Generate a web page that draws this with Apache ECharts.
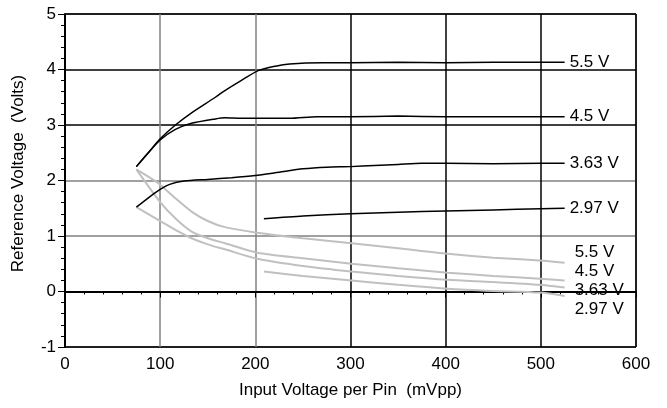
<!DOCTYPE html>
<html><head><meta charset="utf-8">
<script src="https://cdn.jsdelivr.net/npm/echarts@6/dist/echarts.min.js"></script>
<style>html,body{margin:0;padding:0;background:#fff}#c{width:667px;height:408px}</style>
</head><body><div id="c"></div>
<script>
const xTicks = [0, 100, 200, 300, 400, 500, 600];
const yTicks = [-1, 0, 1, 2, 3, 4, 5];
const labels = ['5.5 V', '4.5 V', '3.63 V', '2.97 V'];

const black55 = [[75,2.25],[88,2.51],[100,2.75],[116,3.0],[133,3.22],[158,3.5],[168,3.62],[185,3.8],[203,3.98],[221,4.06],[236,4.1],[271,4.12],[300,4.12],[350,4.13],[400,4.12],[450,4.13],[500,4.13],[525,4.13]];
const black45 = [[75,2.25],[88,2.51],[100,2.73],[116,2.92],[133,3.03],[158,3.11],[168,3.13],[185,3.12],[203,3.12],[236,3.12],[265,3.15],[300,3.15],[350,3.16],[400,3.15],[450,3.15],[500,3.15],[525,3.15]];
const black363 = [[75,1.52],[90,1.72],[100,1.84],[110,1.93],[125,1.99],[150,2.02],[175,2.05],[200,2.09],[225,2.15],[250,2.21],[275,2.24],[300,2.25],[325,2.27],[350,2.29],[375,2.31],[400,2.31],[450,2.3],[500,2.31],[525,2.31]];
const black297 = [[209,1.31],[250,1.36],[300,1.4],[350,1.43],[400,1.45],[450,1.47],[500,1.49],[525,1.5]];

const gray55 = [[75,2.2],[98,1.95],[116,1.68],[133,1.44],[150,1.27],[168,1.16],[202,1.06],[250,0.96],[301,0.87],[350,0.78],[402,0.68],[450,0.61],[499,0.56],[525,0.52]];
const gray45 = [[75,2.2],[100,1.61],[117,1.3],[133,1.08],[150,0.96],[168,0.87],[202,0.7],[250,0.6],[301,0.5],[350,0.42],[402,0.34],[450,0.28],[499,0.23],[525,0.2]];
const gray363 = [[75,1.52],[100,1.27],[117,1.1],[133,0.96],[150,0.85],[168,0.76],[202,0.59],[250,0.46],[301,0.36],[350,0.28],[402,0.21],[450,0.17],[499,0.12],[525,0.07]];
const gray297 = [[209,0.36],[250,0.28],[301,0.2],[350,0.12],[402,0.05],[450,0.01],[499,-0.02],[525,-0.08]];

const FONT = "'Liberation Sans', Arial, sans-serif";
const FS = 17;
const blackSets = [black55, black45, black363, black297];
const graySets = [gray55, gray45, gray363, gray297];
const grayOffsets = [[6,-10],[6,-9],[6,3],[6,13]];

const series = [];
graySets.forEach((d, i) => series.push({
  type: 'line', data: d, smooth: 0.25, symbol: 'none', z: 2,
  lineStyle: {color: '#c0c0c0', width: 2},
  endLabel: {show: true, formatter: labels[i], color: '#000', fontSize: FS, fontFamily: FONT, distance: 4, offset: grayOffsets[i]}
}));
blackSets.forEach((d, i) => series.push({
  type: 'line', data: d, smooth: 0.25, symbol: 'none', z: 3,
  lineStyle: {color: '#000', width: 1.5},
  endLabel: {show: true, formatter: labels[i], color: '#000', fontSize: FS, fontFamily: FONT, distance: 5}
}));

const chart = echarts.init(document.getElementById('c'), null, {renderer: 'canvas'});
chart.setOption({
  animation: false,
  grid: {left: 65, right: 31, top: 14, bottom: 61, show: true, borderColor: '#000', borderWidth: 1},
  xAxis: {
    type: 'value', min: xTicks[0], max: xTicks[xTicks.length - 1], interval: 100,
    name: 'Input Voltage per Pin  (mVpp)', nameLocation: 'middle', nameGap: 35,
    nameTextStyle: {color: '#000', fontSize: FS, fontFamily: FONT},
    axisLine: {lineStyle: {color: '#000', width: 2}},
    axisTick: {show: true, length: 6, lineStyle: {color: '#000'}},
    minorTick: {show: true, splitNumber: 5, length: 3, lineStyle: {color: '#000'}},
    axisLabel: {color: '#000', fontSize: FS, fontFamily: FONT, margin: 9},
    splitLine: {show: true, lineStyle: {color: ['#000','#808080','#808080','#000','#000','#000','#000'], width: 1.5}}
  },
  yAxis: {
    type: 'value', min: yTicks[0], max: yTicks[yTicks.length - 1], interval: 1,
    name: 'Reference Voltage  (Volts)', nameLocation: 'middle', nameGap: 38,
    nameTextStyle: {color: '#000', fontSize: FS, fontFamily: FONT, padding: [0, 0, 0, 14]},
    axisLine: {show: true, lineStyle: {color: '#000', width: 2}},
    axisTick: {show: true, length: 7, lineStyle: {color: '#000'}},
    minorTick: {show: true, splitNumber: 5, length: 4, lineStyle: {color: '#000'}},
    axisLabel: {color: '#000', fontSize: FS, fontFamily: FONT, margin: 9},
    splitLine: {show: true, lineStyle: {color: ['#000','#808080','#808080','#808080','#000','#000','#000'], width: 1.5}}
  },
  series: series
});
</script></body></html>
